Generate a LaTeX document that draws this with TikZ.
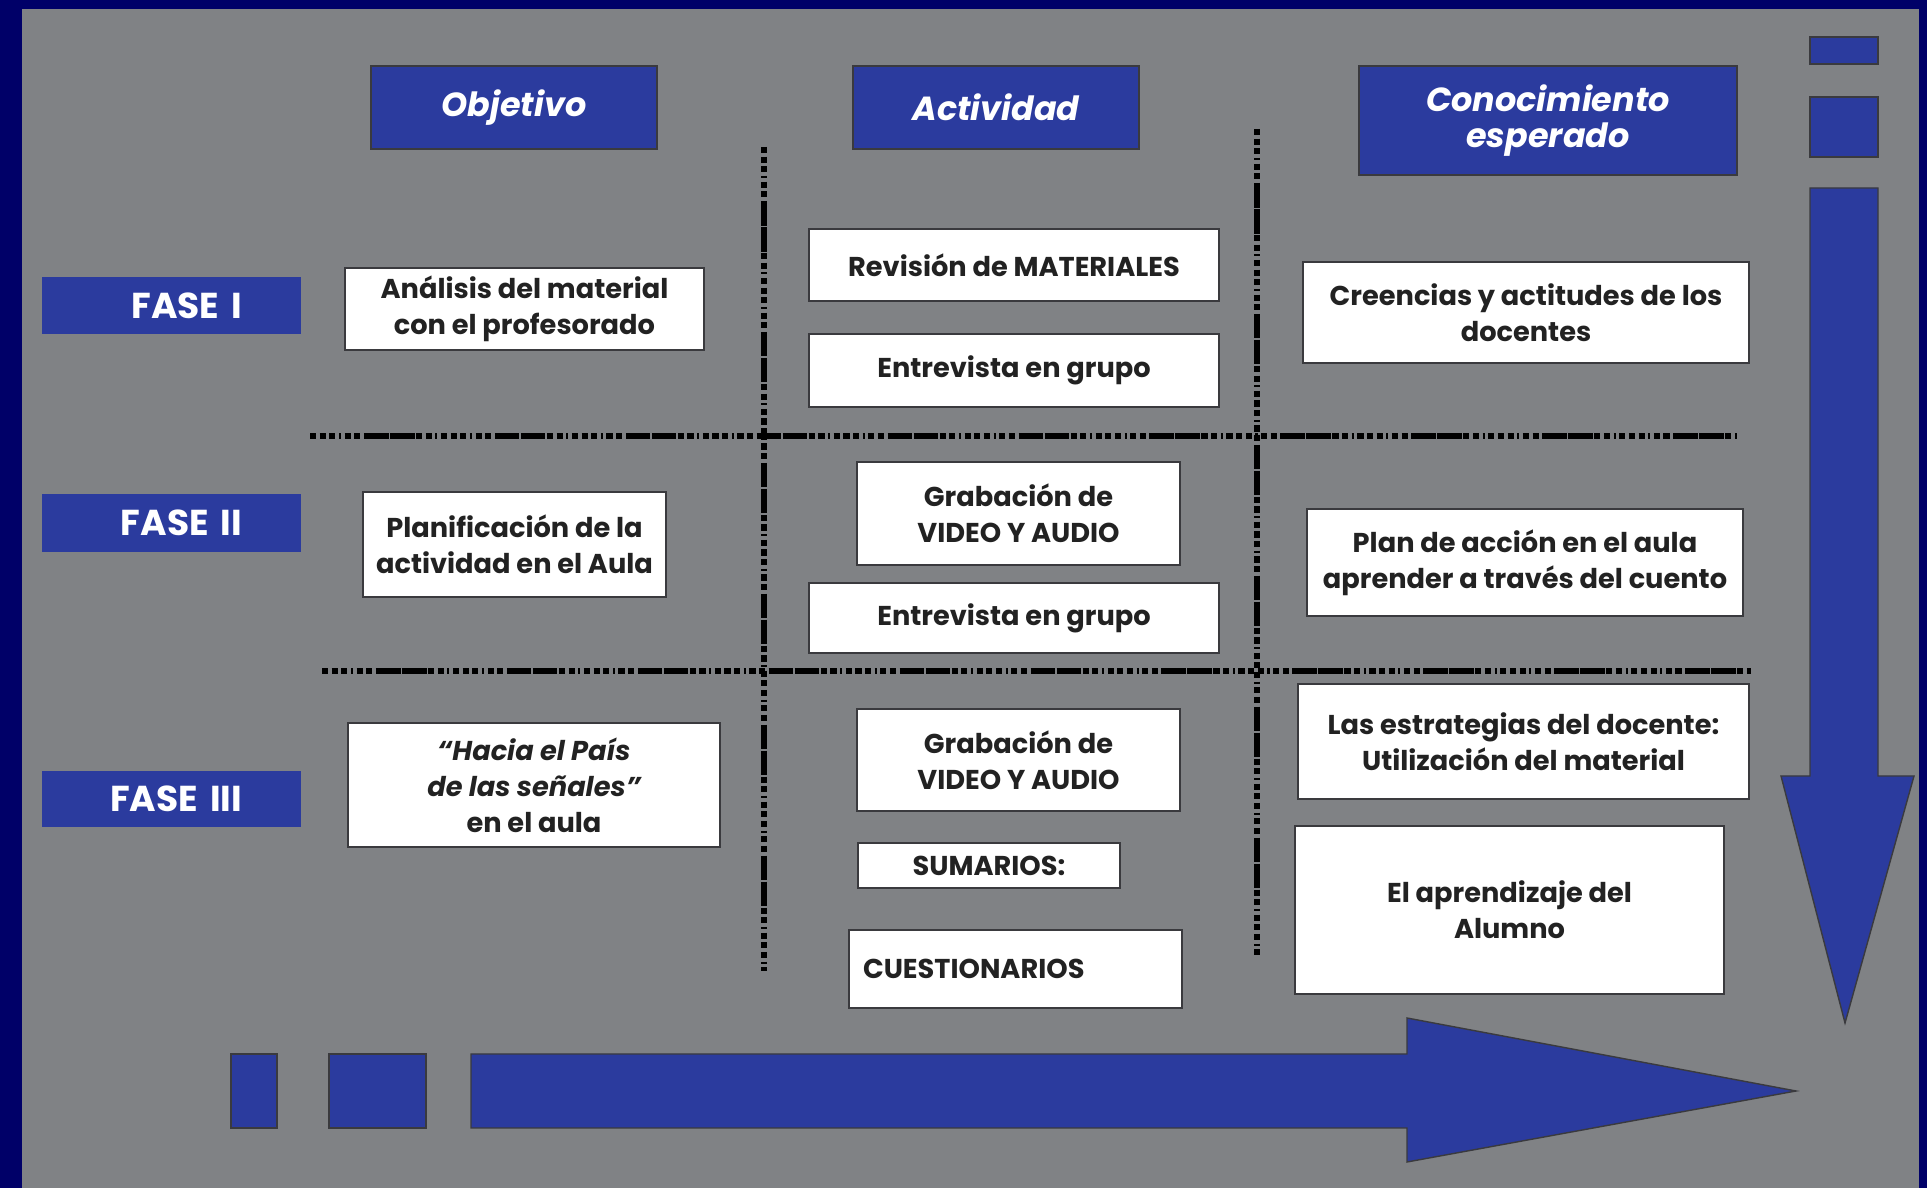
\documentclass[tikz,border=0pt]{standalone}
\usepackage{fontspec}
\setmainfont{Poppins}
\definecolor{framenavy}{HTML}{000068}
\definecolor{bggray}{HTML}{808285}
\definecolor{barblue}{HTML}{2B3B9E}
\definecolor{edgegray}{HTML}{3A3A3E}
\definecolor{inkgray}{HTML}{222222}
\begin{document}
\begin{tikzpicture}[line join=miter,
  head node/.style={rectangle,fill=barblue,draw=edgegray,line width=1.2pt,text=white,align=center,inner sep=0pt,font=\fontsize{19}{20.5}\selectfont\bfseries\itshape},
  fase node/.style={rectangle,fill=barblue,text=white,inner ysep=0pt,inner xsep=1.18cm,text width=2.82cm,align=right,font=\fontsize{20.5}{22}\selectfont\bfseries},
  main node/.style={rectangle,fill=white,draw=edgegray,line width=1.2pt,text=inkgray,align=center,inner sep=0pt,font=\fontsize{15.5}{20.5}\selectfont\bfseries},
  sep line/.style={line width=3.2pt,dash pattern=on 3.5pt off 2pt on 3.5pt off 2pt on 3.5pt off 2pt on 1.2pt off 2pt on 3.5pt off 2pt on 3.5pt off 2pt on 14pt off 0.8pt on 14pt off 0.8pt on 3.5pt off 2pt on 3.5pt off 2pt on 1.2pt off 2pt},
  arrow part/.style={fill=barblue,draw=edgegray,line width=0.8pt}]
\useasboundingbox (0,0) rectangle (38.54,23.76);
\fill[framenavy] (0,0) rectangle (38.54,23.76);
\fill[bggray] (0.44,0) rectangle (38.38,23.58);

% column heads
\begin{scope}[every node/.style={head node}]
\node[minimum width=5.72cm,minimum height=1.66cm] (hobj) at (10.28,21.61) {Objetivo};
\node[minimum width=5.72cm,minimum height=1.66cm] (hact) at (19.92,21.61) {Actividad};
\node[minimum width=7.56cm,minimum height=2.18cm] (hcon) at (30.96,21.35) {Conocimiento\\esperado};
\end{scope}

% phases
\begin{scope}[every node/.style={fase node}]
\node[minimum height=1.14cm] (f1) at (3.43,17.65) {FASE I};
\node[minimum height=1.16cm] (f2) at (3.43,13.30) {FASE II};
\node[minimum height=1.12cm] (f3) at (3.43,7.78) {FASE III};
\end{scope}

% separators
\coordinate (v1a) at (15.28,20.82);
\coordinate (v1b) at (15.28,4.34);
\coordinate (v2a) at (25.14,21.18);
\coordinate (v2b) at (25.14,4.64);
\coordinate (h1a) at (6.20,15.04);
\coordinate (h1b) at (34.74,15.04);
\coordinate (h2a) at (6.44,10.34);
\coordinate (h2b) at (35.02,10.34);
\begin{scope}[sep line]
\draw (v1a) -- (v1b);
\draw (v2a) -- (v2b);
\draw (h1a) -- (h1b);
\draw (h2a) -- (h2b);
\end{scope}

\begin{scope}[every node/.style={main node}]
\node[minimum width=7.18cm,minimum height=1.64cm] (o1) at (10.49,17.58) {Análisis del material\\con el profesorado};
\node[minimum width=6.06cm,minimum height=2.10cm] (o2) at (10.29,12.87) {Planificación de la\\actividad en el Aula};
\node[minimum width=7.44cm,minimum height=2.48cm] (o3) at (10.68,8.06) {\itshape “Hacia el País\\\itshape de las señales”\\en el aula};

\node[minimum width=8.20cm,minimum height=1.44cm] (a1) at (20.28,18.46) {Revisión de MATERIALES};
\node[minimum width=8.20cm,minimum height=1.46cm] (a2) at (20.28,16.35) {Entrevista en grupo};
\node[minimum width=6.46cm,minimum height=2.06cm] (a3) at (20.37,13.49) {Grabación de\\VIDEO Y AUDIO};
\node[minimum width=8.20cm,minimum height=1.40cm] (a4) at (20.28,11.40) {Entrevista en grupo};
\node[minimum width=6.46cm,minimum height=2.04cm] (a5) at (20.37,8.56) {Grabación de\\VIDEO Y AUDIO};
\node[minimum width=5.24cm,minimum height=0.90cm] (a6) at (19.78,6.45) {SUMARIOS:};
\node[text width=6.10cm,inner xsep=0.28cm,align=left,minimum height=1.56cm] (a7) at (20.31,4.38) {CUESTIONARIOS};

\node[minimum width=8.92cm,minimum height=2.02cm] (k1) at (30.52,17.51) {Creencias y actitudes de los\\docentes};
\node[minimum width=8.72cm,minimum height=2.14cm] (k2) at (30.50,12.51) {Plan de acción en el aula\\aprender a través del cuento};
\node[minimum width=9.02cm,minimum height=2.30cm] (k3) at (30.47,8.93) {Las estrategias del docente:\\Utilización del material};
\node[minimum width=8.58cm,minimum height=3.36cm] (k4) at (30.19,5.56) {El aprendizaje del\\Alumno};
\end{scope}

% time arrows
\filldraw[arrow part] (36.20,23.02) rectangle (37.56,22.48);
\filldraw[arrow part] (36.20,21.82) rectangle (37.56,20.62);
\filldraw[arrow part] (36.20,20.00) -- (37.56,20.00) -- (37.56,8.24) -- (38.28,8.24) -- (36.90,3.30) -- (35.62,8.24) -- (36.20,8.24) -- cycle;
\filldraw[arrow part] (4.62,2.68) rectangle (5.54,1.20);
\filldraw[arrow part] (6.58,2.68) rectangle (8.52,1.20);
\filldraw[arrow part] (9.42,2.68) -- (28.14,2.68) -- (28.14,3.40) -- (35.92,1.94) -- (28.14,0.52) -- (28.14,1.20) -- (9.42,1.20) -- cycle;
\end{tikzpicture}
\end{document}
